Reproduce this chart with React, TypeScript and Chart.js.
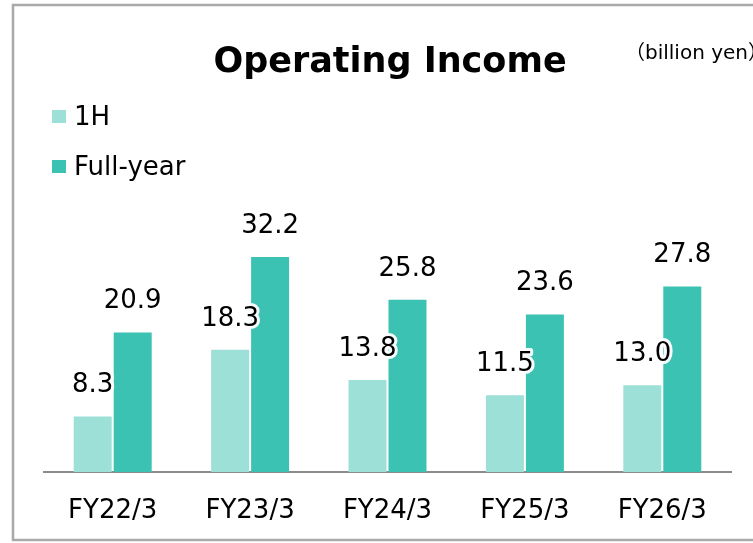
import React, { useEffect, useRef } from "react";
import { Chart, registerables } from "chart.js";

Chart.register(...registerables);

const categories = ["FY22/3", "FY23/3", "FY24/3", "FY25/3", "FY26/3"];
const firstHalf = [8.3, 18.3, 13.8, 11.5, 13.0];
const fullYear = [20.9, 32.2, 25.8, 23.6, 27.8];
const seriesNames = ["1H", "Full-year"];
const seriesColors = ["#9de0d8", "#3bc2b2"];
const titleText = "Operating Income";
const unitOpen = "（";
const unitText = "billion yen）";

const FONT = "'DejaVu Sans', Verdana, sans-serif";

const decorPlugin = {
  id: "decor",
  beforeDraw(chart: any) {
    const ctx = chart.ctx;
    ctx.save();
    ctx.fillStyle = "#ffffff";
    ctx.fillRect(0, 0, chart.width, chart.height);
    ctx.strokeStyle = "#a9a9a9";
    ctx.lineWidth = 2.5;
    ctx.strokeRect(13, 5, 760, 535);
    ctx.restore();
  },
  afterDraw(chart: any) {
    const ctx = chart.ctx;
    ctx.save();
    // title
    ctx.fillStyle = "#000";
    ctx.font = `bold 35px ${FONT}`;
    ctx.textAlign = "center";
    ctx.textBaseline = "alphabetic";
    ctx.fillText(titleText, 390, 72);
    // unit
    ctx.font = `20px ${FONT}, 'Noto Sans CJK JP'`;
    ctx.textAlign = "left";
    const ow = ctx.measureText(unitOpen).width;
    ctx.fillText(unitOpen, 645 - ow, 59);
    ctx.fillText(unitText, 645, 59);
    // legend
    const legY = [117, 167];
    seriesNames.forEach((name, i) => {
      ctx.fillStyle = seriesColors[i];
      ctx.fillRect(52, legY[i] - 7, 14, 13);
      ctx.fillStyle = "#000";
      ctx.font = `26px ${FONT}`;
      ctx.textBaseline = "middle";
      ctx.textAlign = "left";
      ctx.fillText(name, 74, legY[i] + 1);
    });
    // value labels
    ctx.font = `26px ${FONT}`;
    ctx.textAlign = "center";
    ctx.textBaseline = "middle";
    ctx.lineJoin = "round";
    chart.data.datasets.forEach((ds: any, di: number) => {
      const meta = chart.getDatasetMeta(di);
      meta.data.forEach((bar: any, i: number) => {
        const v = ds.data[i];
        const txt = v.toFixed(1);
        const y = bar.y - 31;
        ctx.strokeStyle = "rgba(255,255,255,0.95)";
        ctx.lineWidth = 6;
        ctx.strokeText(txt, bar.x, y);
        ctx.fillStyle = "#000";
        ctx.fillText(txt, bar.x, y);
      });
    });
    ctx.restore();
  },
};

export default function App() {
  const ref = useRef<HTMLCanvasElement | null>(null);
  useEffect(() => {
    document.body.style.margin = "0";
    if (!ref.current) return;
    const chart = new Chart(ref.current, {
      type: "bar",
      data: {
        labels: categories,
        datasets: [
          {
            label: seriesNames[0],
            data: firstHalf,
            backgroundColor: seriesColors[0],
            barPercentage: 0.95,
            categoryPercentage: 0.582,
          },
          {
            label: seriesNames[1],
            data: fullYear,
            backgroundColor: seriesColors[1],
            barPercentage: 0.95,
            categoryPercentage: 0.582,
          },
        ],
      },
      options: {
        animation: false,
        responsive: false,
        maintainAspectRatio: false,
        layout: { padding: { left: 44, right: 22, top: 205, bottom: 0 } },
        plugins: {
          legend: { display: false },
          title: { display: false },
          tooltip: { enabled: false },
        },
        scales: {
          x: {
            grid: { display: false, drawTicks: false },
            border: { display: true, color: "#8c8c8c", width: 2 },
            ticks: {
              color: "#000",
              font: { family: FONT, size: 26 },
              padding: 24,
            },
            afterFit: (s: any) => {
              s.height = 71;
            },
          },
          y: {
            display: false,
            min: 0,
            max: 40,
          },
        },
      },
      plugins: [decorPlugin],
    });
    return () => chart.destroy();
  }, []);
  return (
    <div style={{ position: "absolute", left: 0, top: 0, width: 753, height: 543 }}>
      <canvas ref={ref} width={753} height={543} style={{ width: 753, height: 543 }} />
    </div>
  );
}
